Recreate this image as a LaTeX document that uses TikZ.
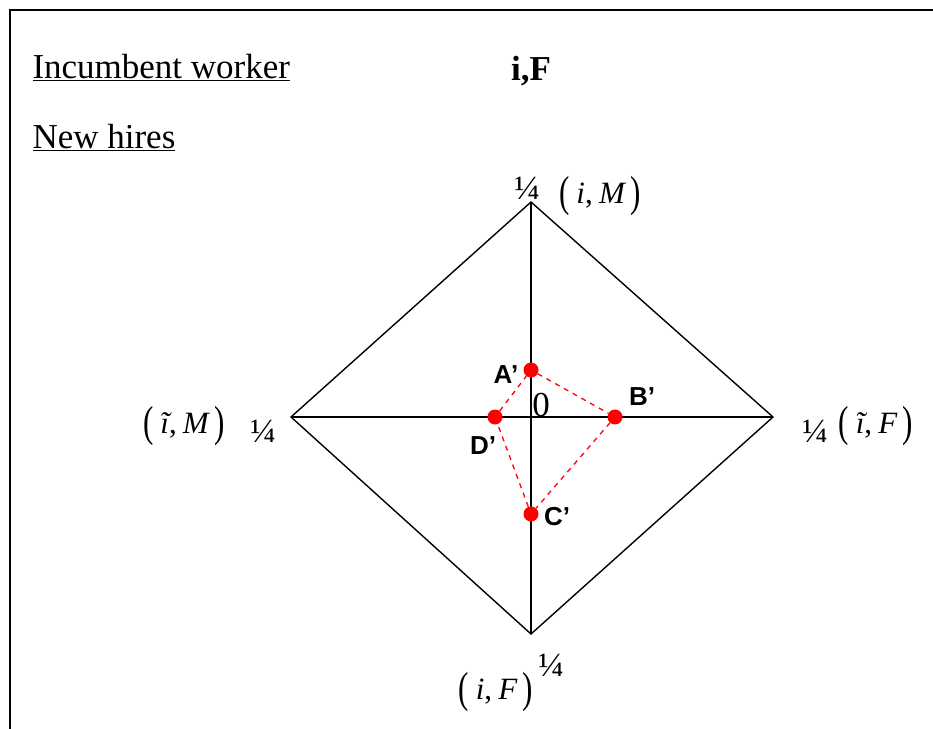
\RequirePackage{fix-cm}
\documentclass[tikz,border=0pt]{standalone}
\usepackage{fontspec}
\setmainfont{Liberation Serif}
\newfontfamily\lsans{Liberation Sans}
\newcommand\mylp{\raisebox{-0.1em}{\scalebox{1}[1.4]{(}}}
\newcommand\myrp{\raisebox{-0.1em}{\scalebox{1}[1.4]{)}}}
\newcommand\plab[2]{\mylp\kern0.22em{\itshape #1},\kern0.2em{\itshape #2}\kern0.18em\myrp}
\begin{document}
\begin{tikzpicture}[x=1pt,y=-1pt,
  edge/.style={line width=1.4pt,black},
  reddash/.style={red,line width=1.3pt,dash pattern=on 5pt off 5pt},
  dot/.style={circle,fill=red,inner sep=0pt,minimum size=15pt},
  ptlab/.style={font=\lsans\bfseries\fontsize{26}{26}\selectfont,inner sep=0pt},
  head/.style={font=\fontsize{35}{35}\selectfont,anchor=base west},
  mlab/.style={font=\fontsize{31}{31}\selectfont,inner sep=0pt},
  qlab/.style={font=\fontsize{34}{34}\selectfont,inner sep=0pt}]
\useasboundingbox (0,0) rectangle (933,728);
\begin{scope}
\clip (0,0) rectangle (933,728);
\draw[line width=1.4pt] (10,10) rectangle (960,760);
\end{scope}
% headings
\node[head] (inc) at (29,78) {\underline{Incumbent worker}};
\node[head] (nh) at (29,148) {\underline{New hires}};
\node[font=\bfseries\fontsize{35}{35}\selectfont,anchor=base] (iF) at (531,80) {i,F};
% diamond
\coordinate (T) at (531,202);
\coordinate (L) at (291,417);
\coordinate (R) at (773,417);
\coordinate (B) at (531,634);
\coordinate (O) at (531,417);
\draw[edge] (T) -- (R) -- (B) -- (L) -- cycle;
\draw[edge] (L) -- (R);
\draw[edge] (T) -- (B);
% vertex labels
\node[qlab] (qT) at (527,188) {¼};
\node[mlab] (mT) at (600,196) {\plab{i}{M}};
\node[mlab] (mL) at (184,426) {\plab{ĩ}{M}};
\node[qlab] (qL) at (263,431) {¼};
\node[qlab] (qR) at (815,431) {¼};
\node[mlab] (mR) at (876,426) {\plab{ĩ}{F}};
\node[mlab] (mB) at (496,692) {\plab{i}{F}};
\node[qlab] (qB) at (551,665) {¼};
\node[font=\fontsize{35}{35}\selectfont] (zero) at (541,405) {0};
% points
\node[dot] (A) at (531,370) {};
\node[dot] (Bp) at (615,417) {};
\node[dot] (C) at (531,514) {};
\node[dot] (D) at (495,417) {};
\draw[reddash] (A) -- (Bp) -- (C) -- (D) -- (A);
\node[ptlab] (lA) at (506,375) {A’};
\node[ptlab] (lB) at (642,397) {B’};
\node[ptlab] (lC) at (557,517) {C’};
\node[ptlab] (lD) at (483,446) {D’};
\end{tikzpicture}
\end{document}
